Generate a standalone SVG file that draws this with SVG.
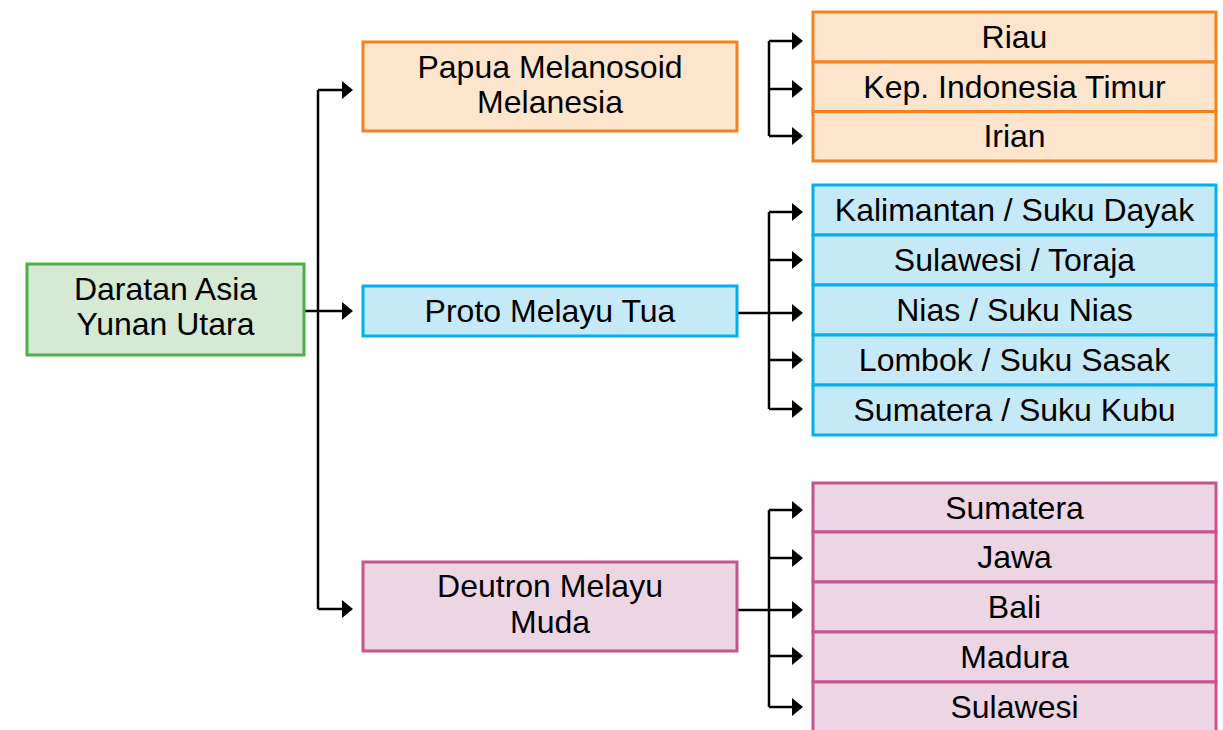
<svg xmlns="http://www.w3.org/2000/svg" width="1223" height="730" viewBox="0 0 1223 730">
<style>
text{font-family:"Liberation Sans",Arial,sans-serif;font-size:32px;fill:#000;text-anchor:middle}
.g{fill:#d6e9d4;stroke:#4fae4a;stroke-width:3}
.o{fill:#fde4cd;stroke:#f4831f;stroke-width:3}
.b{fill:#c6e9f8;stroke:#00b0f0;stroke-width:3}
.p{fill:#edd6e4;stroke:#c4558e;stroke-width:3}
.c{fill:none;stroke:#000;stroke-width:2.5;marker-end:url(#ah)}
.l{fill:none;stroke:#000;stroke-width:2.5}
</style>
<defs>
<marker id="ah" markerUnits="userSpaceOnUse" markerWidth="12" markerHeight="18" refX="9" refY="9" orient="auto" viewBox="0 0 12 18">
<path d="M0,0 L11,9 L0,18 Z" fill="#000"/>
</marker>
</defs>
<rect width="1223" height="730" fill="#fff"/>
<g id="connectors">
<path class="l" d="M318,90 V609"/>
<path class="c" d="M318,90 H351"/>
<path class="c" d="M304,311 H351"/>
<path class="c" d="M318,609 H351"/>
<path class="l" d="M769,41 V136"/>
<path class="c" d="M769,41 H801"/>
<path class="c" d="M769,89 H801"/>
<path class="c" d="M769,136 H801"/>
<path class="l" d="M769,212 V409"/>
<path class="l" d="M737,313 H769"/>
<path class="c" d="M769,212 H801"/>
<path class="c" d="M769,260 H801"/>
<path class="c" d="M769,313 H801"/>
<path class="c" d="M769,360 H801"/>
<path class="c" d="M769,409 H801"/>
<path class="l" d="M769,510 V707"/>
<path class="l" d="M737,610 H769"/>
<path class="c" d="M769,510 H801"/>
<path class="c" d="M769,558 H801"/>
<path class="c" d="M769,610 H801"/>
<path class="c" d="M769,656 H801"/>
<path class="c" d="M769,707 H801"/>
</g>
<g id="daratan"><rect class="g" x="27" y="264" width="277" height="91"/><text x="165.5" y="300">Daratan Asia</text><text x="165.5" y="335">Yunan Utara</text></g>
<g id="papua"><rect class="o" x="363" y="42" width="374" height="89"/><text x="550" y="78">Papua Melanosoid</text><text x="550" y="113">Melanesia</text></g>
<g id="proto"><rect class="b" x="363" y="286" width="374" height="50"/><text x="550" y="322">Proto Melayu Tua</text></g>
<g id="deutron"><rect class="p" x="363" y="562" width="374" height="89"/><text x="550" y="597">Deutron Melayu</text><text x="550" y="633">Muda</text></g>
<g id="riau"><rect class="o" x="813" y="12" width="403" height="50"/><text x="1014.5" y="48">Riau</text></g>
<g id="kep"><rect class="o" x="813" y="62" width="403" height="49.5"/><text x="1014.5" y="97.5">Kep. Indonesia Timur</text></g>
<g id="irian"><rect class="o" x="813" y="111.5" width="403" height="49.5"/><text x="1014.5" y="147">Irian</text></g>
<g id="kalimantan"><rect class="b" x="813" y="185" width="403" height="50"/><text x="1014.5" y="221">Kalimantan / Suku Dayak</text></g>
<g id="sulawesi-toraja"><rect class="b" x="813" y="235" width="403" height="50"/><text x="1014.5" y="271">Sulawesi / Toraja</text></g>
<g id="nias"><rect class="b" x="813" y="285" width="403" height="50"/><text x="1014.5" y="321">Nias / Suku Nias</text></g>
<g id="lombok"><rect class="b" x="813" y="335" width="403" height="50"/><text x="1014.5" y="371">Lombok / Suku Sasak</text></g>
<g id="sumatera-kubu"><rect class="b" x="813" y="385" width="403" height="50"/><text x="1014.5" y="421">Sumatera / Suku Kubu</text></g>
<g id="sumatera"><rect class="p" x="813" y="483" width="403" height="49"/><text x="1014.5" y="518.5">Sumatera</text></g>
<g id="jawa"><rect class="p" x="813" y="532" width="403" height="50"/><text x="1014.5" y="568">Jawa</text></g>
<g id="bali"><rect class="p" x="813" y="582" width="403" height="50"/><text x="1014.5" y="618">Bali</text></g>
<g id="madura"><rect class="p" x="813" y="632" width="403" height="50"/><text x="1014.5" y="668">Madura</text></g>
<g id="sulawesi"><rect class="p" x="813" y="682" width="403" height="52"/><text x="1014.5" y="718">Sulawesi</text></g>
</svg>
